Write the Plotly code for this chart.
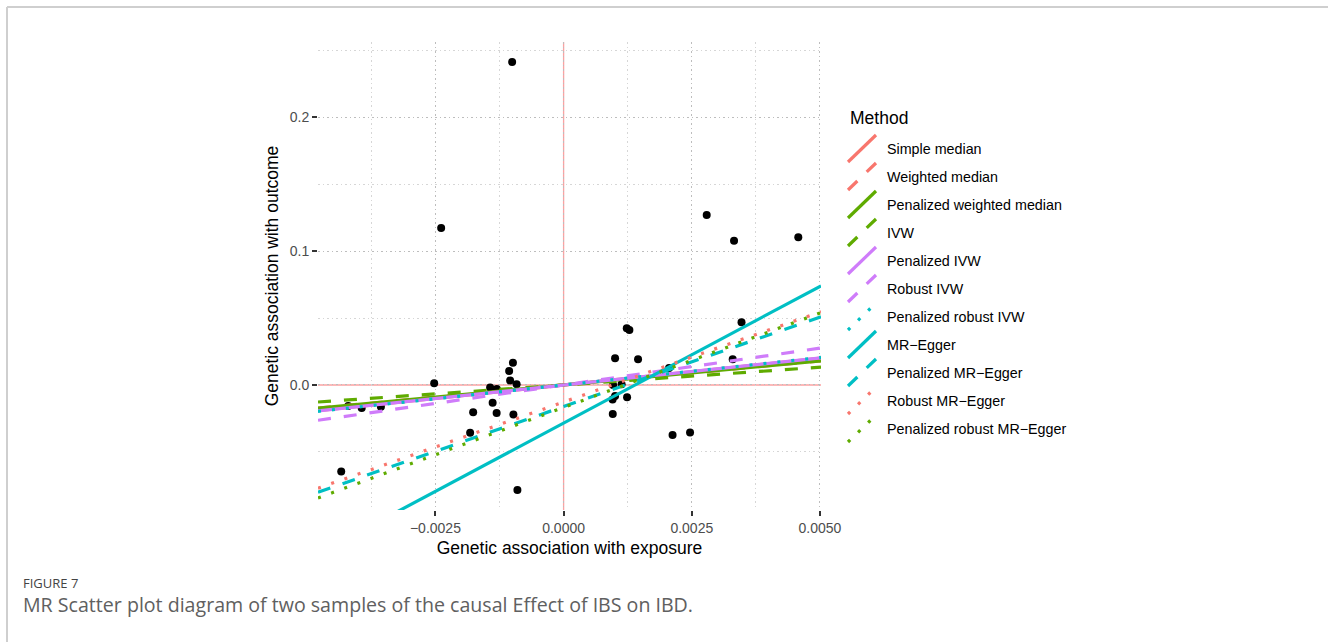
import plotly.graph_objects as go

# ---------------- data ----------------
exposure = [-0.002524, -0.004201, -0.003938, -0.003563, -0.004337, -0.001433, -0.001302,
            -0.001384, -0.001764, -0.001306, -0.001823, -0.001062, -0.000988, -0.001043,
            -0.000916, -0.000979, -0.000901, -0.001004, -0.002388, 0.001232, 0.001283,
            0.001004, 0.001452, 0.000965, 0.001131, 0.000955, 0.001004, 0.001238,
            0.000959, 0.002125, 0.002466, 0.002057, 0.002791, 0.003324, 0.004577,
            0.003470, 0.003298]
outcome = [0.00127, -0.01567, -0.01716, -0.01627, -0.06455, -0.00187, -0.00299,
           -0.01321, -0.02030, -0.02090, -0.03560, 0.01045, 0.01664, 0.00336,
           0.00060, -0.02200, -0.07840, 0.24100, 0.11720, 0.04231, 0.04104,
           0.01993, 0.01918, 0.00000, 0.00050, -0.01082, -0.00821, -0.00918,
           -0.02164, -0.03731, -0.03545, 0.01269, 0.12687, 0.10769, 0.11022,
           0.04679, 0.01918]

methods = ["Simple median", "Weighted median", "Penalized weighted median", "IVW",
           "Penalized IVW", "Robust IVW", "Penalized robust IVW", "MR\u2212Egger",
           "Penalized MR\u2212Egger", "Robust MR\u2212Egger", "Penalized robust MR\u2212Egger"]
intercepts = [0.0, 0.0, 0.0, 0.0, 0.0, 0.0, 0.0, -0.0284, -0.0161, -0.0127, -0.0168]
slopes = [4.0, 3.6, 3.6, 2.65, 4.04, 5.5, 4.1, 20.4, 13.35, 13.43, 14.1]

x_tick_vals = [-0.0025, 0.0, 0.0025, 0.005]
x_tick_text = ["\u22120.0025", "0.0000", "0.0025", "0.0050"]
x_minor_vals = [-0.00375, -0.00125, 0.00125, 0.00375]
y_tick_vals = [0.0, 0.1, 0.2]
y_tick_text = ["0.0", "0.1", "0.2"]
y_minor_vals = [-0.05, 0.05, 0.15, 0.25]

# ---------------- styles ----------------
SALMON, GREEN, VIOLET, CYAN = "#F8766D", "#5FAB00", "#CF7CFA", "#00BFC4"
method_colors = [SALMON, SALMON, GREEN, GREEN, VIOLET, VIOLET, CYAN, CYAN, CYAN, SALMON, GREEN]
DASHED, DOTTED = "13px,13px", "3px,11px"
method_dash = ["solid", DASHED, "solid", DASHED, "solid", DASHED, DOTTED, "solid", DASHED, DOTTED, DOTTED]

x_range = [-0.00479, 0.00502]
y_range = [-0.0933, 0.256]

# layout geometry (pixels)
W, H = 1328, 642
L, R, T, B = 318, 507, 42, 132
PW, PH = W - L - R, H - T - B
FONT = "Liberation Sans, Arial, sans-serif"


def px_x(p):
    return (p - L) / PW


def px_y(p):
    return (H - B - p) / PH


fig = go.Figure()

fig.add_trace(go.Scatter(
    x=exposure, y=outcome, mode="markers",
    marker=dict(color="black", size=8), showlegend=False, hoverinfo="x+y"))

for name, a, b, col, dash in zip(methods, intercepts, slopes, method_colors, method_dash):
    xs = [x_range[0], x_range[1]]
    ys = [a + b * v for v in xs]
    fig.add_trace(go.Scatter(
        x=xs, y=ys, mode="lines", name=name,
        line=dict(color=col, width=3.2, dash=dash), showlegend=False))

shapes = []
annotations = []

# reference lines at zero
REFCOL = "rgba(250,70,70,0.5)"
shapes.append(dict(type="line", xref="x", yref="paper", x0=0, x1=0, y0=0, y1=1,
                   layer="between", line=dict(color=REFCOL, width=1.3)))
shapes.append(dict(type="line", xref="paper", yref="y", x0=0, x1=1, y0=0, y1=0,
                   layer="between", line=dict(color=REFCOL, width=1.3)))

# manual legend (diagonal key glyphs, like ggplot abline keys)
annotations.append(dict(
    text="Method", xref="paper", yref="paper", x=px_x(848), y=px_y(118),
    xanchor="left", yanchor="middle", showarrow=False,
    font=dict(size=17.5, color="black", family=FONT)))
for i, (name, col, dash) in enumerate(zip(methods, method_colors, method_dash)):
    cy = 148.5 + 28 * i
    shapes.append(dict(
        type="line", xref="paper", yref="paper",
        x0=px_x(848), y0=px_y(cy + 13.5), x1=px_x(876), y1=px_y(cy - 13.5),
        line=dict(color=col, width=3.2, dash=dash)))
    annotations.append(dict(
        text=name, xref="paper", yref="paper", x=px_x(885), y=px_y(149 + 28 * i),
        xanchor="left", yanchor="middle", showarrow=False,
        font=dict(size=14.3, color="black", family=FONT)))

# page frame lines
shapes.append(dict(type="line", xref="paper", yref="paper",
                   x0=px_x(7), y0=px_y(7), x1=px_x(W), y1=px_y(7),
                   line=dict(color="#CFCFCF", width=2)))
shapes.append(dict(type="line", xref="paper", yref="paper",
                   x0=px_x(7), y0=px_y(7), x1=px_x(7), y1=px_y(H),
                   line=dict(color="#CFCFCF", width=2)))

# caption
annotations.append(dict(
    text="FIGURE 7", xref="paper", yref="paper", x=px_x(21), y=px_y(583),
    xanchor="left", yanchor="middle", showarrow=False,
    font=dict(size=13, color="#444444", family="Open Sans, sans-serif")))
annotations.append(dict(
    text="MR Scatter plot diagram of two samples of the causal Effect of IBS on IBD.",
    xref="paper", yref="paper", x=px_x(21), y=px_y(604),
    xanchor="left", yanchor="middle", showarrow=False,
    font=dict(size=19.6, color="#606060", family="Open Sans, sans-serif")))

axis_common = dict(
    showgrid=True, gridcolor="#BDBDBD", gridwidth=1, griddash="1.5px,3px",
    zeroline=False, showline=False,
    ticks="outside", ticklen=5, tickwidth=1.5, tickcolor="#333333",
    tickfont=dict(size=14, color="#4D4D4D", family=FONT),
)
minor_common = dict(showgrid=True, gridcolor="#D6D6D6", griddash="1.5px,3px",
                    gridwidth=1, ticks="")

fig.update_layout(
    width=W, height=H,
    margin=dict(l=L, r=R, t=T, b=B, autoexpand=False),
    plot_bgcolor="white", paper_bgcolor="white",
    showlegend=False,
    xaxis=dict(
        range=x_range, tickvals=x_tick_vals, ticktext=x_tick_text,
        minor=dict(tickvals=x_minor_vals, **minor_common),
        title=dict(text="Genetic association with exposure", standoff=6,
                   font=dict(size=17.5, color="black", family=FONT)),
        automargin=False,
        **axis_common),
    yaxis=dict(
        range=y_range, tickvals=y_tick_vals, ticktext=y_tick_text,
        minor=dict(tickvals=y_minor_vals, **minor_common),
        title=dict(text="Genetic association with outcome", standoff=6,
                   font=dict(size=17.5, color="black", family=FONT)),
        automargin=False,
        **axis_common),
    shapes=shapes,
    annotations=annotations,
)

fig.write_html("out.html", config={"displayModeBar": False},
               post_script="document.body.style.margin='0px';document.body.style.overflow='hidden';")
